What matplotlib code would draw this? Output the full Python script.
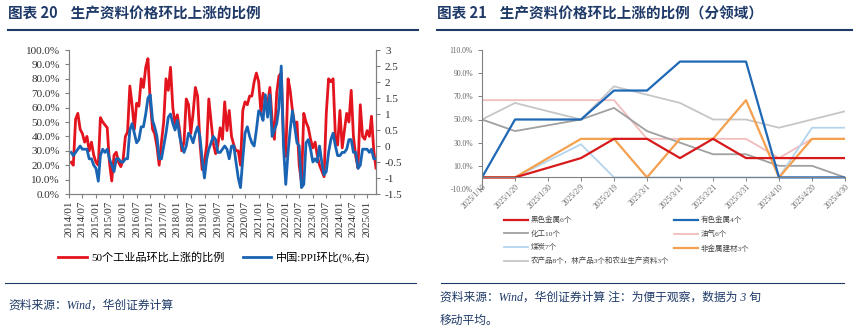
import numpy as np
import pandas as pd
import matplotlib
matplotlib.use('Agg')
import matplotlib.pyplot as plt
from matplotlib.lines import Line2D

plt.rcParams['font.family'] = ['Liberation Serif', 'Noto Sans CJK SC', 'DejaVu Sans']
plt.rcParams['axes.unicode_minus'] = False

NAVY = '#1F3A68'
AXIS = '#808080'

# ---- 图表20 数据：月度 ----
months = pd.date_range('2014-01-31', periods=136, freq='ME')
up_share = [22, 20, 52, 56, 45, 42, 36, 40, 30, 36, 27, 22,
            20, 53, 50, 48, 46, 22, 9, 27, 29, 22, 19, 24,
            40, 43, 75, 62, 45, 63, 61, 80, 74, 88, 94, 64,
            45, 42, 33, 20, 36, 50, 80, 72, 88, 60, 48, 55,
            44, 30, 36, 66, 62, 42, 56, 74, 68, 36, 17, 22,
            34, 66, 50, 35, 28, 34, 46, 38, 64, 44, 58, 40,
            34, 30, 30, 20, 58, 64, 62, 68, 68, 78, 84, 78,
            56, 70, 66, 62, 74, 52, 38, 70, 82, 84, 40, 26,
            80, 72, 58, 48, 50, 20, 8, 56, 50, 46, 38, 32,
            36, 27, 20, 16, 12, 56, 80, 78, 80, 40, 34, 58,
            32, 44, 56, 50, 72, 40, 26, 18, 62, 40, 38, 44,
            40, 54, 30, 18]
ppi_mom = [-0.2, -0.3, -0.2, -0.1, 0.0, -0.1, -0.1, -0.1, -0.4, -0.4, -0.6, -0.7,
           -1.1, -0.3, -0.1, -0.2, -0.1, -0.4, -0.6, -0.8, -0.4, -0.4, -0.5, -0.5,
           -0.4, -0.4, 0.5, 0.7, 0.4, 0.1, 0.2, 0.6, 0.6, 1.0, 1.5, 1.6,
           0.8, 0.6, 0.3, -0.4, -0.4, 0.0, 0.4, 0.9, 1.0, 0.7, 0.5, 0.8,
           0.3, 0.0, -0.2, 0.0, 0.4, 0.3, 0.1, 0.4, 0.6, 0.3, -0.4, -1.0,
           -0.4, -0.1, 0.1, 0.3, 0.2, -0.2, -0.2, -0.1, 0.0, -0.1, -0.4, 0.0,
           0.0, -0.5, -1.0, -1.3, -0.4, 0.4, 0.6, 0.3, 0.1, 0.0, 0.5, 1.1,
           1.0, 0.8, 1.6, 0.9, 1.6, 0.3, 0.5, 0.7, 1.2, 2.5, 0.0, -1.2,
           -0.2, 0.5, 1.1, 0.6, 0.1, 0.0, -1.3, -1.2, 0.1, 0.2, -0.1, -0.5,
           -0.4, -0.5, 0.0, -0.5, -0.9, -0.8, -0.2, 0.2, 0.4, 0.0, -0.3, -0.3,
           -0.2, -0.2, -0.1, 0.2, 0.2, -0.2, -0.2, -0.7, -0.6, -0.1, -0.1, -0.1,
           -0.2, -0.1, -0.4, -0.4]

# ---- 图表21 数据：旬度，3旬移动平均 ----
xun_labels = ['2025/1/10', '2025/1/20', '2025/1/30', '2025/2/9', '2025/2/19', '2025/3/1',
              '2025/3/11', '2025/3/21', '2025/3/31', '2025/4/10', '2025/4/20', '2025/4/30']
ferrous = [0, 0, 8.3, 16.7, 33.3, 33.3, 16.7, 33.3, 16.7, 16.7, 16.7, 16.7]
nonferrous = [0, 50, 50, 50, 75, 75, 100, 100, 100, 0, 0, 0]
chemical = [50, 40, 45, 50, 60, 40, 30, 20, 20, 10, 10, 0]
oil_gas = [66.7, 66.7, 66.7, 66.7, 66.7, 33.3, 33.3, 33.3, 33.3, 16.7, 33.3, 33.3]
coal = [0, 0, 14.3, 28.6, 0, 0, 0, 0, 0, 0, 42.9, 42.9]
building = [0, 0, 16.7, 33.3, 33.3, 0, 33.3, 33.3, 66.7, 0, 33.3, 33.3]
farm = [50, 64.3, 57.1, 50, 78.6, 71.4, 64.3, 50, 50, 42.9, 50, 57.1]

W, H = 859, 329
fig = plt.figure(figsize=(W / 100, H / 100), dpi=100)


def fx(px):
    return px / W


def fy(py):
    return 1 - py / H


# titles and rules
fig.text(fx(8), fy(14), '图表 20    生产资料价格环比上涨的比例', fontsize=10.5,
         fontweight='bold', color=NAVY, va='center', family=['Noto Sans CJK SC'])
fig.text(fx(437), fy(14), '图表 21    生产资料价格环比上涨的比例（分领域）', fontsize=10.5,
         fontweight='bold', color=NAVY, va='center', family=['Noto Sans CJK SC'])
for x0, x1 in [(8, 418), (437, 852)]:
    fig.add_artist(Line2D([fx(x0), fx(x1)], [fy(30), fy(30)], color=NAVY, lw=1.5))
for x0, x1 in [(5, 416), (441, 844)]:
    fig.add_artist(Line2D([fx(x0), fx(x1)], [fy(283), fy(283)], color=NAVY, lw=0.8))

fig.text(fx(8), fy(306), '资料来源：Wind，华创证券计算', fontsize=8.5, color=NAVY,
         style='italic', va='center')
fig.text(fx(440), fy(298), '资料来源：Wind，华创证券计算 注：为便于观察，数据为 3 旬', fontsize=8.5,
         color=NAVY, style='italic', va='center')
fig.text(fx(440), fy(321), '移动平均。', fontsize=8.5, color=NAVY, style='italic', va='center')

# ---- left chart ----
ax = fig.add_axes([fx(69), fy(194), fx(376) - fx(69), (194 - 50) / H])
ax2 = ax.twinx()
l1, = ax.plot(months, up_share, color='#E3141E', lw=2.0)
l2, = ax2.plot(months, ppi_mom, color='#1A64B4', lw=2.0)
ax.set_ylim(0, 100)
ax.set_yticks(np.arange(0, 101, 10))
ax.set_yticklabels([f'{v:.1f}%' for v in np.arange(0, 101, 10)])
ax2.set_ylim(-1.5, 3)
ax2.set_yticks(np.arange(-1.5, 3.01, 0.5))
ax2.set_yticklabels([f'{v:g}' for v in np.arange(-1.5, 3.01, 0.5)])
ax.set_xlim(pd.Timestamp('2014-01-01'), pd.Timestamp('2025-04-30'))
ticks = pd.date_range('2014-01-01', '2025-01-01', freq='6MS')
ax.set_xticks(ticks)
ax.set_xticklabels([t.strftime('%Y/%m') for t in ticks], rotation=90)
for a in (ax, ax2):
    a.spines['top'].set_visible(False)
    for s in ('left', 'right', 'bottom'):
        a.spines[s].set_color(AXIS)
    a.tick_params(colors='#333333', labelsize=8, length=3, width=0.8, color=AXIS)
ax.tick_params(axis='x', pad=2)

fig.legend([l1, l2], ['50个工业品环比上涨的比例', '中国:PPI环比(%,右)'],
           loc='center', bbox_to_anchor=(fx(214), fy(257)), ncol=2, frameon=False,
           fontsize=8, handlelength=2.6, columnspacing=1.6, handletextpad=0.4)

# ---- right chart ----
bx = fig.add_axes([fx(482), fy(189), fx(845) - fx(482), (189 - 50) / H])
bx.spines['bottom'].set_position(('data', 0))
xi = np.arange(len(xun_labels))
series = [
    ('黑色金属6个', ferrous, '#D7191C', 1.6),
    ('化工10个', chemical, '#A0A0A0', 1.3),
    ('煤炭7个', coal, '#B4D4EE', 1.3),
    ('农产品8个，林产品3个和农业生产资料3个', farm, '#C6C6C6', 1.3),
    ('有色金属4个', nonferrous, '#1F68B6', 1.6),
    ('油气6个', oil_gas, '#F2BDBD', 1.3),
    ('非金属建材3个', building, '#F4A04E', 1.6),
]
draw_order = [3, 5, 1, 2, 6, 0, 4]
handles = {}
for i in draw_order:
    name, vals, col, lw = series[i]
    h, = bx.plot(xi, vals, color=col, lw=lw)
    handles[i] = h
bx.set_xlim(0, 11)
bx.set_ylim(-10, 110)
bx.set_yticks(np.arange(-10, 111, 20))
bx.set_yticklabels([f'{v:.1f}%' for v in np.arange(-10, 111, 20)])
bx.set_xticks(xi)
bx.set_xticklabels(xun_labels, rotation=45, ha='right', va='top', rotation_mode='anchor')
for s in ('top', 'right'):
    bx.spines[s].set_visible(False)
for s in ('left', 'bottom'):
    bx.spines[s].set_color(AXIS)
bx.tick_params(colors='#666666', labelsize=5.5, length=3, width=0.7, color=AXIS)
bx.tick_params(axis='x', direction='out', pad=1)

bx.legend([handles[i] for i in range(7)], [s[0] for s in series], ncol=2,
          loc='upper left', bbox_to_anchor=(fx(497), fy(209)),
          bbox_transform=fig.transFigure, frameon=False, fontsize=5.4,
          handlelength=3.2, handletextpad=0.4, columnspacing=0.6, labelspacing=0.85,
          labelcolor='#444444')

fig.savefig('out.png', dpi=100)
